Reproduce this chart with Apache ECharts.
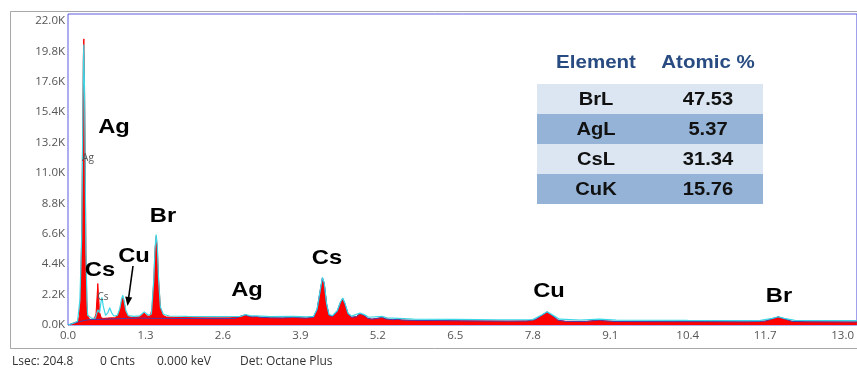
<!DOCTYPE html>
<html>
<head>
<meta charset="utf-8">
<script src="https://cdn.jsdelivr.net/npm/echarts@6/dist/echarts.min.js"></script>
<style>
  html, body { margin: 0; padding: 0; background: #ffffff; }
  #chart { width: 857px; height: 370px; }
</style>
</head>
<body>
<div id="chart"></div>
<script>
// EDS spectrum: counts versus energy (keV)

// Measured spectrum (filled red), [energy keV, counts]
const spectrumMain = [
  [0.00, 0], [0.04, 60], [0.08, 120], [0.12, 180], [0.16, 260], [0.19, 600],
  [0.21, 2000], [0.23, 6500], [0.245, 13500], [0.258, 19500], [0.266, 20700],
  [0.275, 18500], [0.288, 12000], [0.30, 5500], [0.315, 1800], [0.33, 700],
  [0.36, 420], [0.40, 400], [0.44, 450], [0.47, 800], [0.49, 2200], [0.50, 3000],
  [0.51, 2300], [0.53, 900], [0.56, 500], [0.60, 480], [0.66, 500], [0.72, 520],
  [0.78, 520], [0.83, 650], [0.87, 1100], [0.90, 1700], [0.92, 1950], [0.94, 1700],
  [0.97, 1000], [1.01, 620], [1.06, 560], [1.14, 560], [1.20, 600], [1.24, 720],
  [1.27, 880], [1.30, 800], [1.34, 640], [1.38, 650], [1.41, 1200], [1.44, 3200],
  [1.46, 5400], [1.48, 6400], [1.50, 5500], [1.52, 3300], [1.55, 1300], [1.59, 700],
  [1.65, 580], [1.75, 560], [1.90, 540], [2.10, 530], [2.30, 520], [2.50, 520],
  [2.70, 520], [2.85, 560], [2.93, 680], [2.98, 720], [3.03, 640], [3.10, 580],
  [3.16, 620], [3.22, 560], [3.40, 520], [3.60, 510], [3.72, 540], [3.78, 580],
  [3.84, 530], [4.00, 500], [4.12, 560], [4.18, 1100], [4.23, 2400], [4.27, 3400],
  [4.30, 3000], [4.34, 1500], [4.38, 700], [4.44, 620], [4.52, 1000], [4.57, 1600],
  [4.61, 1900], [4.65, 1500], [4.70, 800], [4.76, 560], [4.84, 600], [4.90, 820],
  [4.93, 870], [4.97, 700], [5.03, 480], [5.10, 420], [5.22, 500], [5.27, 580],
  [5.32, 450], [5.45, 380], [5.54, 420], [5.60, 360], [5.80, 330], [6.20, 320],
  [6.60, 300], [7.00, 290], [7.40, 280], [7.70, 290], [7.85, 400], [7.95, 700],
  [8.04, 940], [8.12, 720], [8.22, 350], [8.35, 260], [8.70, 260], [8.85, 330],
  [8.92, 360], [9.00, 300], [9.20, 250], [10.00, 240], [10.80, 240], [11.40, 230],
  [11.70, 280], [11.82, 450], [11.92, 580], [12.02, 450], [12.15, 260], [12.40, 230],
  [13.24, 220]
];

// Second trace (cyan outline), [energy keV, counts]
const spectrumOverlay = [
  [0.00, 0], [0.10, 150], [0.16, 270], [0.20, 1800], [0.23, 6400], [0.258, 19000],
  [0.266, 20300], [0.28, 16000], [0.30, 5400], [0.32, 1500], [0.33, 700], [0.36, 650],
  [0.40, 480], [0.46, 500], [0.50, 1100], [0.53, 900], [0.555, 1700], [0.57, 2000],
  [0.59, 1400], [0.63, 700], [0.67, 900], [0.70, 1250], [0.73, 900], [0.77, 650],
  [0.83, 700], [0.87, 1200], [0.90, 1900], [0.92, 2150], [0.94, 1800], [0.97, 1050],
  [1.01, 680], [1.10, 620], [1.20, 660], [1.24, 800], [1.28, 950], [1.31, 850],
  [1.35, 700], [1.40, 800], [1.44, 3300], [1.46, 5500], [1.48, 6550], [1.50, 5600],
  [1.52, 3300], [1.55, 1300], [1.60, 780], [1.70, 650], [2.00, 620], [2.50, 600],
  [2.90, 620], [2.98, 760], [3.05, 680], [3.16, 660], [3.40, 600], [3.78, 620],
  [4.00, 590], [4.12, 620], [4.18, 1150], [4.23, 2450], [4.27, 3450], [4.30, 3050],
  [4.34, 1550], [4.38, 760], [4.44, 680], [4.52, 1050], [4.57, 1650], [4.61, 1950],
  [4.65, 1550], [4.70, 850], [4.76, 640], [4.90, 860], [4.93, 900], [4.97, 750],
  [5.05, 560], [5.27, 620], [5.35, 520], [5.54, 480], [5.80, 430], [6.50, 400],
  [7.20, 380], [7.80, 390], [7.95, 720], [8.04, 960], [8.12, 750], [8.25, 420],
  [8.60, 360], [8.92, 420], [9.20, 350], [10.40, 330], [11.60, 320], [11.82, 480],
  [11.92, 600], [12.02, 480], [12.20, 340], [13.24, 320]
];

// Background trace (navy) at low energies, [energy keV, counts]
const backgroundLow = [
  [0.00, 0], [0.10, 120], [0.20, 250], [0.30, 350], [0.40, 400], [0.60, 420],
  [0.80, 450], [1.00, 480], [1.20, 500], [1.50, 480], [2.00, 470], [2.50, 460],
  [2.80, 470]
];

// Y ticks every 2.2K, X ticks every 1.3 keV
const countStep = 2200;
const energyStep = 1.3;

// Peak annotations
const peakNames = ['Ag', 'Cs', 'Cu', 'Br', 'Ag', 'Cs', 'Cu', 'Br'];
const smallNames = ['Ag', 'Cs'];

// Quantification table
const tableHeader = ['Element', 'Atomic %'];
const tableElements = ['BrL', 'AgL', 'CsL', 'CuK'];
const tableAtomic = ['47.53', '5.37', '31.34', '15.76'];

// Status line under the chart
const statusItems = ['Lsec: 204.8', '0 Cnts', '0.000 keV', 'Det: Octane Plus'];

const navyTrace = backgroundLow.concat(spectrumMain.filter(p => p[0] > 2.8));

const chart = echarts.init(document.getElementById('chart'), null, { renderer: 'canvas' });

const bigFont = 'bold 21px "Liberation Sans", Arial, sans-serif';
const peakPos = [[114, 127], [100, 270], [134, 256], [163, 216], [247, 290], [327, 258], [549, 291], [779, 296]];
const smallPos = [[88, 158], [103, 297]];

const graphics = [];
// outer frame
graphics.push({
  type: 'rect', z: 0, silent: true,
  shape: { x: 10.5, y: 11.5, width: 860, height: 337 },
  style: { fill: 'none', stroke: '#a8a8a8', lineWidth: 1 }
});
peakNames.forEach((t, i) => {
  graphics.push({
    type: 'text', z: 20, x: peakPos[i][0], y: peakPos[i][1], scaleX: 1.13,
    style: { text: t, font: bigFont, fill: '#000000', textAlign: 'center', textVerticalAlign: 'middle' }
  });
});
smallNames.forEach((t, i) => {
  graphics.push({
    type: 'text', z: 20, x: smallPos[i][0], y: smallPos[i][1],
    style: { text: t, font: '10px "Open Sans", sans-serif', fill: '#555555', textAlign: 'center', textVerticalAlign: 'middle' }
  });
});
// arrow pointing at the Cu L peak
graphics.push({
  type: 'line', z: 20,
  shape: { x1: 133, y1: 266, x2: 128.6, y2: 298 },
  style: { stroke: '#000000', lineWidth: 1.6 }
});
graphics.push({
  type: 'polygon', z: 20,
  shape: { points: [[127.5, 306], [132.2, 297.6], [125.2, 296.6]] },
  style: { fill: '#000000' }
});
// table
const tLeft = 537, tWidth = 226, rowH = 30, tTop = 84;
const colX = [596, 708];
tableHeader.forEach((t, i) => {
  graphics.push({
    type: 'text', z: 20, x: colX[i], y: 63, scaleX: 1.08,
    style: { text: t, font: 'bold 19px "Liberation Sans", Arial, sans-serif', fill: '#284c82', textAlign: 'center', textVerticalAlign: 'middle' }
  });
});
tableElements.forEach((el, r) => {
  graphics.push({
    type: 'rect', z: 15,
    shape: { x: tLeft, y: tTop + r * rowH, width: tWidth, height: rowH },
    style: { fill: r % 2 === 0 ? '#dce6f2' : '#95b3d7' }
  });
  [el, tableAtomic[r]].forEach((t, c) => {
    graphics.push({
      type: 'text', z: 20, x: colX[c], y: tTop + r * rowH + rowH / 2 + 1, scaleX: 1.12,
      style: { text: t, font: 'bold 18px "Liberation Sans", Arial, sans-serif', fill: '#111111', textAlign: 'center', textVerticalAlign: 'middle' }
    });
  });
});
// status line
const statusX = [12, 100, 157, 240];
statusItems.forEach((t, i) => {
  graphics.push({
    type: 'text', z: 20, x: statusX[i], y: 362,
    style: { text: t, font: '12px "Open Sans", sans-serif', fill: '#333333', textAlign: 'left', textVerticalAlign: 'middle' }
  });
});

const option = {
  backgroundColor: '#ffffff',
  animation: false,
  grid: {
    left: 68, right: 0, top: 14, bottom: 45,
    show: true, borderColor: '#5b5be0', borderWidth: 1, backgroundColor: 'transparent'
  },
  xAxis: {
    type: 'value', min: 0, max: 13.24, interval: energyStep,
    axisLine: { show: false }, axisTick: { show: false }, splitLine: { show: false },
    axisLabel: {
      color: '#555555', fontSize: 11.5, fontFamily: '"Open Sans", sans-serif', margin: 5,
      showMaxLabel: false,
      formatter: v => {
        const k = v / energyStep;
        return Math.abs(k - Math.round(k)) < 1e-6 ? v.toFixed(1) : '';
      }
    }
  },
  yAxis: {
    type: 'value', min: 0, max: 22500, interval: countStep,
    axisLine: { show: false }, axisTick: { show: false }, splitLine: { show: false },
    axisLabel: {
      color: '#555555', fontSize: 11.5, fontFamily: '"Open Sans", sans-serif', margin: 3,
      padding: [10, 0, 0, 0],
      showMaxLabel: false,
      formatter: v => (v % countStep === 0 ? (v / 1000).toFixed(1) + 'K' : '')
    }
  },
  series: [
    {
      type: 'line', data: spectrumMain, showSymbol: false, z: 2,
      lineStyle: { color: '#ff0000', width: 1 },
      areaStyle: { color: '#ff0000', opacity: 1 },
      itemStyle: { color: '#ff0000' }
    },
    {
      type: 'line', data: navyTrace, showSymbol: false, z: 3,
      lineStyle: { color: '#4a3aa8', width: 1 },
      itemStyle: { color: '#4a3aa8' }
    },
    {
      type: 'line', data: spectrumOverlay, showSymbol: false, z: 4,
      lineStyle: { color: '#3ad6e6', width: 1.2 },
      itemStyle: { color: '#3ad6e6' }
    }
  ],
  graphic: graphics
};

chart.setOption(option);
</script>
</body>
</html>
